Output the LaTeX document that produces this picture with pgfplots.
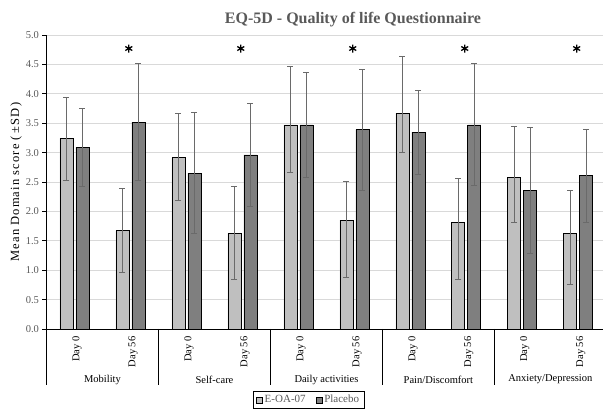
\documentclass[border=0pt]{standalone}
\usepackage{pgfplots}
\pgfplotsset{compat=1.18}
\usepackage{pgfplotstable}
\usepackage{fontspec}
\setmainfont{Liberation Serif}
\newfontfamily\labelfont[LetterSpace=9]{Liberation Serif}

\definecolor{lightbar}{HTML}{BFBFBF}
\definecolor{darkbar}{HTML}{7F7F7F}
\definecolor{errgray}{HTML}{6A6A6A}
\definecolor{txtgray}{HTML}{595959}
\definecolor{gridgray}{HTML}{D9D9D9}

% x: category (Day 0 / Day 56 per domain), e/p = mean, ep/em = upper/lower SD
\pgfplotstableread{
x e    ep   em   p    pp   pm
0 3.24 0.69 0.71 3.09 0.66 0.67
1 1.67 0.72 0.71 3.52 1.00 1.00
2 2.91 0.76 0.73 2.65 1.03 1.02
3 1.62 0.80 0.77 2.96 0.87 0.88
4 3.47 0.99 0.80 3.47 0.90 0.89
5 1.85 0.66 0.98 3.39 1.03 1.04
6 3.67 0.96 0.66 3.35 0.71 0.73
7 1.81 0.75 0.97 3.47 1.04 1.03
8 2.57 0.87 0.75 2.35 1.07 1.07
9 1.62 0.73 0.87 2.61 0.78 0.79
}\eqdata

% significance stars
\pgfplotstableread{
x y
0.97 4.77
2.97 4.77
4.97 4.77
6.97 4.77
8.97 4.77
}\stars

\pgfplotsset{
  eqbase/.style={
    at={(0pt,0pt)}, anchor=south west,
    scale only axis,
    width=556.5pt, height=294pt,
    xmin=-0.5, xmax=9.44,
    ymin=0, ymax=5,
    enlargelimits=false,
    clip=false,
  },
  errstyle/.style={
    error bars/.cd, y dir=both, y explicit,
    error bar style={errgray, line width=0.9pt},
    error mark options={rotate=90, mark size=3pt, errgray, line width=0.9pt},
  },
}

\begin{document}
\begin{tikzpicture}
\useasboundingbox (-46.5pt,-80pt) rectangle (556.5pt,329pt);
\begin{axis}[
    eqbase,
    ybar=3pt, bar width=13pt,
    axis lines*=left,
    axis line style={black, line width=0.8pt},
    ytick={0,0.5,...,5},
    ymajorgrids,
    grid style={gridgray, line width=0.9pt},
    tick align=outside,
    major tick length=4pt,
    ytick style={black, line width=0.6pt},
    xtick={0,...,9},
    xtick style={draw=none},
    xticklabels={Day 0,Day 56,Day 0,Day 56,Day 0,Day 56,Day 0,Day 56,Day 0,Day 56},
    xticklabel style={rotate=90, anchor=east, font=\fontsize{10.5}{12}\selectfont, yshift=-2.5pt},
    yticklabel style={/pgf/number format/fixed, /pgf/number format/fixed zerofill,
        /pgf/number format/precision=1, font=\fontsize{10.5}{12}\selectfont, text=txtgray},
    /pgf/number format/assume math mode=true,
    ylabel={Mean Domain score (\,±SD\,)},
    ylabel style={at={(axis description cs:-0.0548,0.5)}, anchor=center,
        font=\labelfont\fontsize{12.5}{14}\selectfont},
    legend columns=2,
    legend style={at={(0.471,-0.211)}, anchor=north, draw=black, line width=0.6pt,
        font=\fontsize{11}{12}\selectfont, text=txtgray,
        /tikz/every even column/.append style={column sep=8pt}},
    legend image code/.code={\draw[#1, draw=black, line width=0.6pt] (0pt,-3pt) rectangle (6pt,3pt);},
]
\addplot[fill=lightbar, draw=black, line width=0.8pt, errstyle]
    table[x=x, y=e, y error plus=ep, y error minus=em] {\eqdata};
\addlegendentry{E-OA-07}
\addplot[fill=darkbar, draw=black, line width=0.8pt, errstyle]
    table[x=x, y=p, y error plus=pp, y error minus=pm] {\eqdata};
\addlegendentry{Placebo}

% category separators below the axis
\foreach \s in {-0.5,1.5,3.5,5.5,7.5}{
  \edef\tmp{\noexpand\draw[black, line width=0.8pt] (axis cs:\s,0) -- ++(0pt,-56pt);}
  \tmp
}
\foreach \c/\n in {0.5/{Mobility},2.5/{Self-care},4.5/{Daily activities},6.5/{Pain/Discomfort},8.5/{Anxiety/Depression}}{
  \edef\tmp{\noexpand\node[font=\noexpand\fontsize{10.5}{12}\noexpand\selectfont, anchor=center] at (axis cs:\c,0) [yshift=-50.5pt] {\n};}
  \tmp
}
\end{axis}
% stars in an overlay axis of the same size, so they do not take part in the bar layout
\begin{axis}[eqbase, hide axis]
\addplot[only marks, mark=asterisk, mark size=4pt, black, line width=1.3pt]
    table[x=x, y=y] {\stars};
\end{axis}
\node[font=\fontsize{16}{18}\selectfont\bfseries, text=txtgray] at (306.5pt,309pt) {EQ-5D - Quality of life Questionnaire};
\end{tikzpicture}
\end{document}
